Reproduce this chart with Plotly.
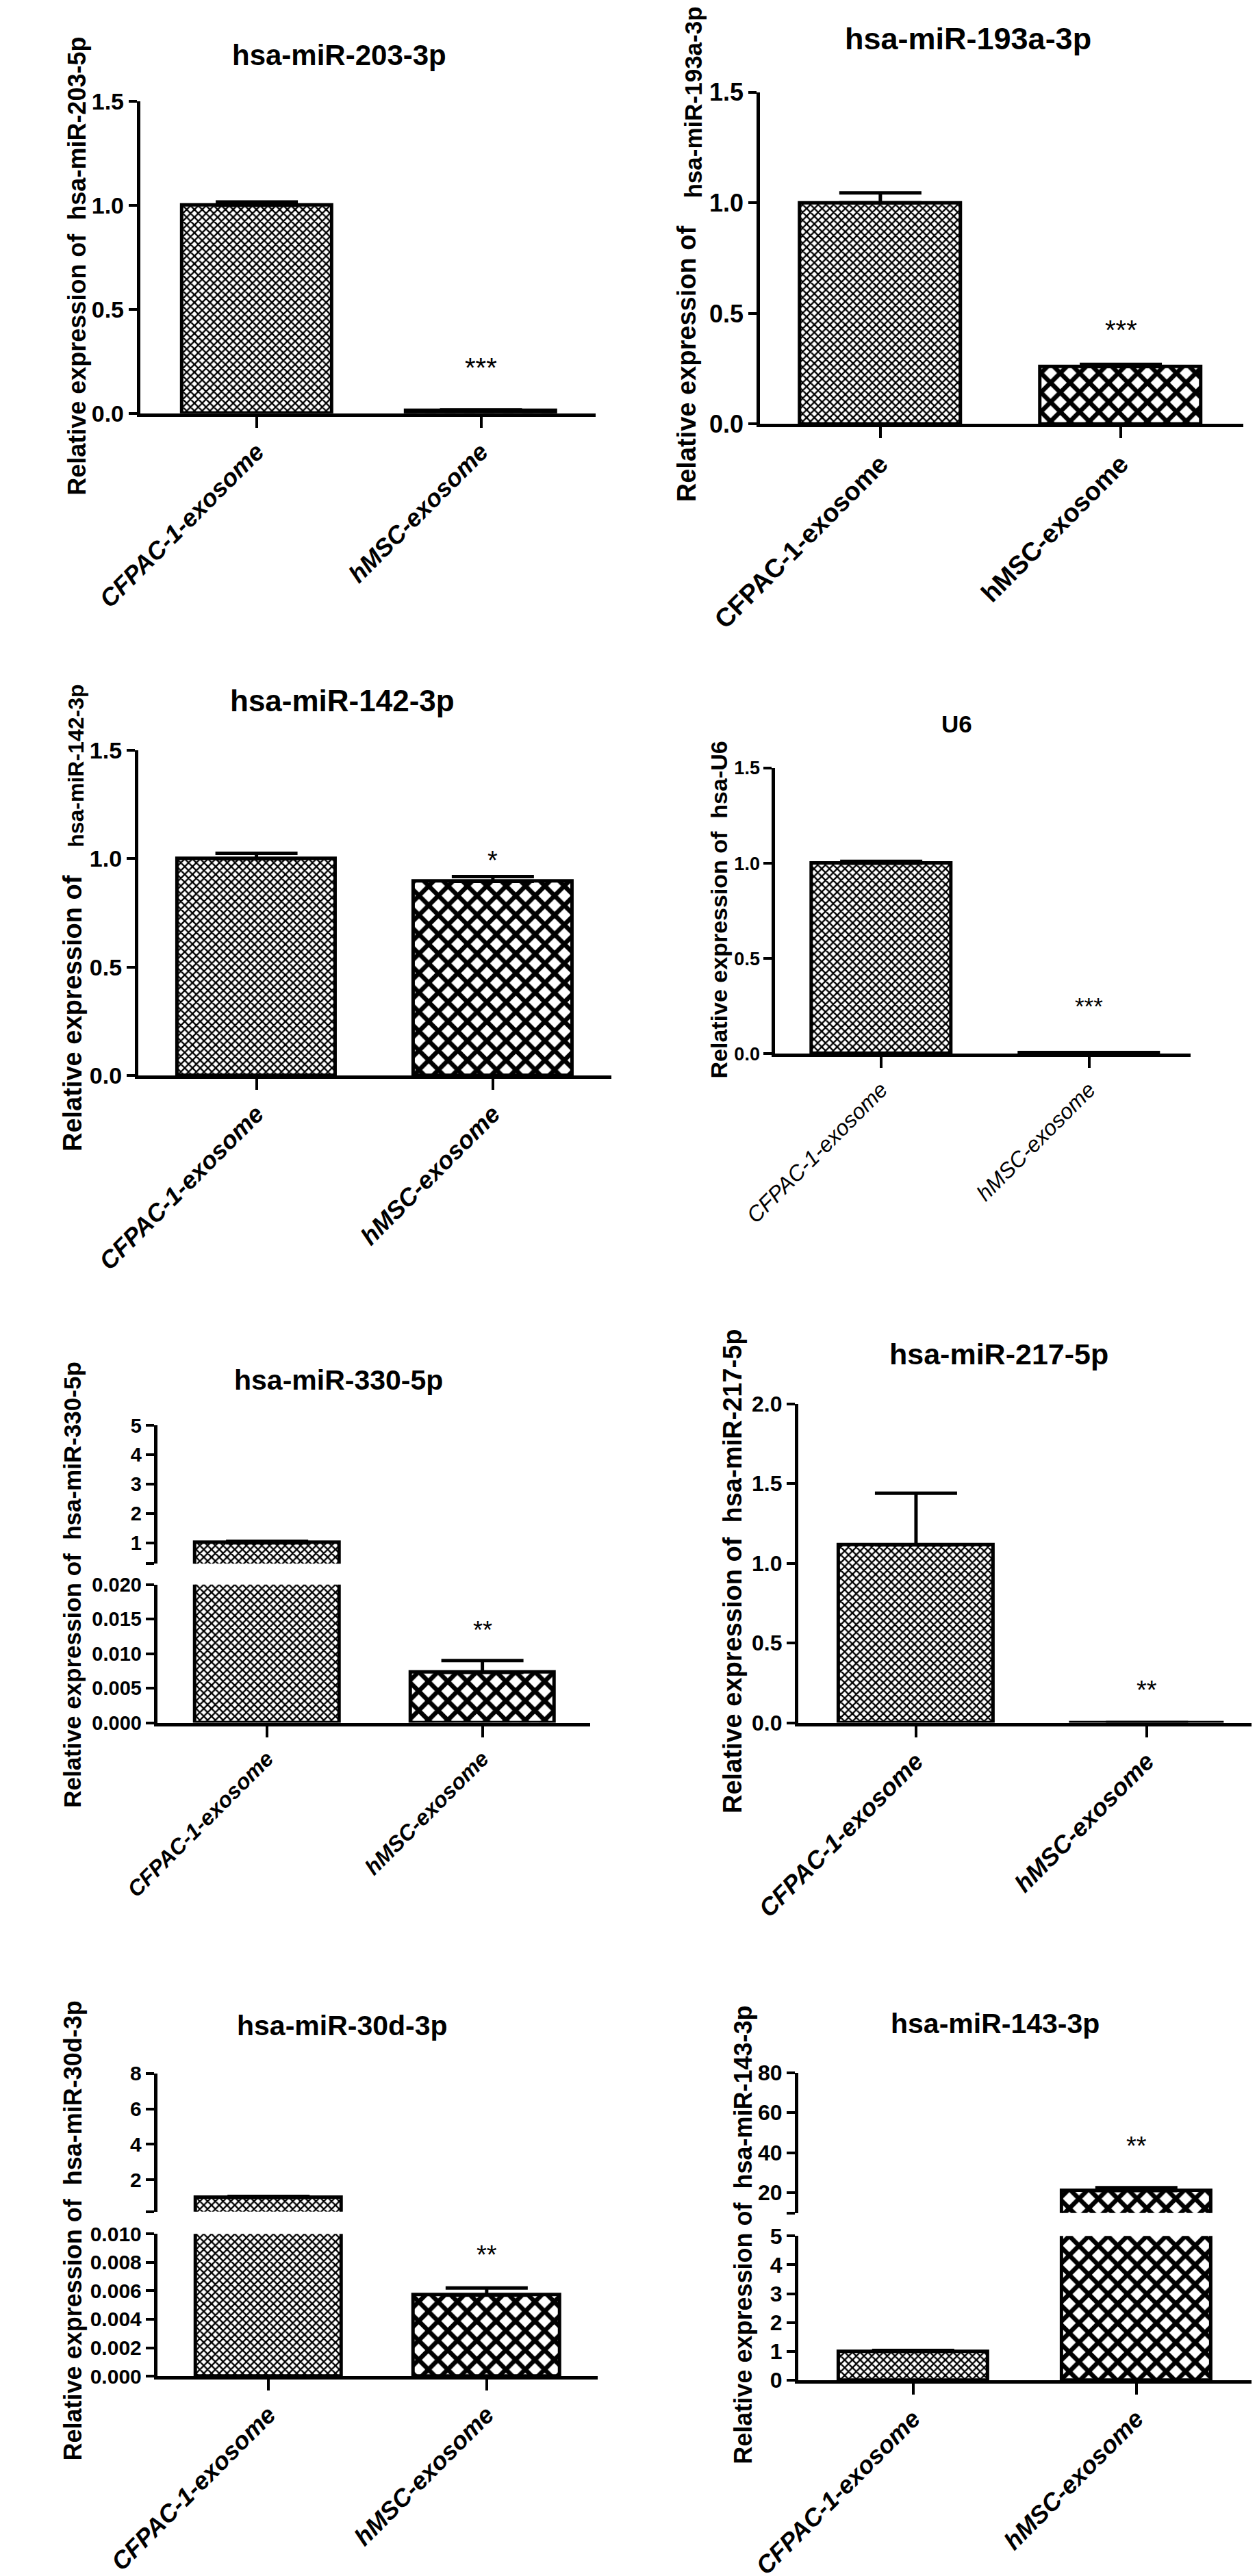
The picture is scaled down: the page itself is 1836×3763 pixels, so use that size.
import plotly.graph_objects as go

W, H = 1836, 3763
FONT = "Liberation Sans, Arial, sans-serif"

groups = ["CFPAC-1-exosome", "hMSC-exosome"]

# mean / SEM
mir203_mean = [1.0, 0.012]
mir203_sem = [0.015, 0.004]
mir193a_mean = [1.0, 0.26]
mir193a_sem = [0.045, 0.01]
mir142_mean = [1.0, 0.896]
mir142_sem = [0.025, 0.022]
u6_mean = [1.0, 0.004]
u6_sem = [0.01, 0.001]
mir330_mean = [1.0, 0.0073]
mir330_sem = [0.05, 0.0017]
mir217_mean = [1.115, 0.001]
mir217_sem = [0.325, None]
mir30d_mean = [1.0, 0.0057]
mir30d_sem = [0.06, 0.0005]
mir143_mean = [1.0, 21.0]
mir143_sem = [0.03, 1.5]

# significance marks and where they sit (data units)
stars = ["***", "***", "*", "***", "**", "**", "**", "**"]
star_y = [0.247, 0.45, 1.016, 0.28, 0.0142, 0.24, 0.0089, 46]

# y tick labels
ticks_unit = [0, 0.5, 1.0, 1.5]
ticks_217 = [0, 0.5, 1.0, 1.5, 2.0]
ticks_330_lo = [0, 0.005, 0.010, 0.015, 0.020]
ticks_330_hi = [1, 2, 3, 4, 5]
ticks_30d_lo = [0, 0.002, 0.004, 0.006, 0.008, 0.010]
ticks_30d_hi = [2, 4, 6, 8]
ticks_143_lo = [0, 1, 2, 3, 4, 5]
ticks_143_hi = [20, 40, 60, 80]


def seg(top, bot, rng, ticks, dec, brk=False):
    return dict(top=top, bot=bot, rng=rng, ticks=ticks, dec=dec, brk=brk)


# layout of each panel (pixels in the 1836x3763 page)
panels = [
    dict(title="hsa-miR-203-3p", tpos=(430, 53, 42), mean=mir203_mean, sem=mir203_sem,
         x=(127, 820), xr=(-0.52, 1.51), segs=[seg(121, 582, [0, 1.5], ticks_unit, 1)],
         ytxt=[("Relative expression of  hsa-miR-203-5p", 30, 365, 36, "middle")],
         ytick=34, xfont=(36, "bold", "italic"), star=(0, 40)),
    dict(title="hsa-miR-193a-3p", tpos=(1388, 29, 45), mean=mir193a_mean, sem=mir193a_sem,
         x=(1071, 1807), xr=(-0.5, 1.51), segs=[seg(108, 598, [0, 1.5], ticks_unit, 1)],
         ytxt=[("Relative expression of", 960, 509, 38, "middle"),
               ("hsa-miR-193a-3p", 969, 266, 35, "bottom")],
         ytick=36, xfont=(38, "bold", "normal"), star=(0, 40)),
    dict(title="hsa-miR-142-3p", tpos=(435, 1006, 44), mean=mir142_mean, sem=mir142_sem,
         x=(124, 844), xr=(-0.5, 1.5), segs=[seg(1080, 1560, [0, 1.5], ticks_unit, 1)],
         ytxt=[("Relative expression of", 24, 1468, 38, "middle"),
               ("hsa-miR-142-3p", 29, 1103, 32, "middle")],
         ytick=34, xfont=(36, "bold", "italic"), star=(0, 38)),
    dict(title="U6", tpos=(1371, 1041, 35), mean=u6_mean, sem=u6_sem,
         x=(1094, 1727), xr=(-0.51, 1.49), segs=[seg(1106, 1528, [0, 1.5], ticks_unit, 1)],
         ytxt=[("Relative expression of  hsa-U6", 1008, 1315, 34, "middle")],
         ytick=27, xfont=(32, "normal", "italic"), star=(0, 35)),
    dict(title="hsa-miR-330-5p", tpos=(429, 2010, 41), mean=mir330_mean, sem=mir330_sem,
         x=(153, 812), xr=(-0.51, 1.5),
         segs=[seg(2312, 2516, [0, 0.02], ticks_330_lo, 3),
               seg(2077, 2281, [0.29, 5], ticks_330_hi, 0, True)],
         ytxt=[("Relative expression of  hsa-miR-330-5p", 24, 2312, 35, "middle")],
         ytick=29, xfont=(32, "bold", "italic"), star=(0, 36)),
    dict(title="hsa-miR-217-5p", tpos=(1435, 1971, 43), mean=mir217_mean, sem=mir217_sem,
         x=(1129, 1836), xr=(-0.51, 1.5), segs=[seg(2045, 2516, [0, 2.0], ticks_217, 1)],
         ytxt=[("Relative expression of  hsa-miR-217-5p", 1029, 2292, 38, "middle")],
         ytick=32, xfont=(36, "bold", "italic"), star=(0, 38)),
    dict(title="hsa-miR-30d-3p", tpos=(435, 2963, 41), mean=mir30d_mean, sem=mir30d_sem,
         x=(153, 824), xr=(-0.51, 1.51),
         segs=[seg(3271, 3481, [0, 0.010], ticks_30d_lo, 3),
               seg(3034, 3238, [0.2, 8], ticks_30d_hi, 0, True)],
         ytxt=[("Relative expression of  hsa-miR-30d-3p", 24, 3266, 36, "middle")],
         ytick=30, xfont=(36, "bold", "italic"), star=(0, 38)),
    dict(title="hsa-miR-143-3p", tpos=(1429, 2960, 41), mean=mir143_mean, sem=mir143_sem,
         x=(1129, 1836), xr=(-0.515, 1.565),
         segs=[seg(3274, 3487, [0, 5], ticks_143_lo, 0),
               seg(3033, 3240, [9.8, 80], ticks_143_hi, 0, True)],
         ytxt=[("Relative expression of  hsa-miR-143-3p", 1045, 3272, 36, "middle")],
         ytick=32, xfont=(36, "bold", "italic"), star=(1, 38)),
]

fig = go.Figure()
lay = {}
annotations = []
ny = 0

for i, p in enumerate(panels):
    xn = i + 1
    xname = "xaxis" if xn == 1 else f"xaxis{xn}"
    xref = "x" if xn == 1 else f"x{xn}"
    seg_refs = []
    for k, s in enumerate(p["segs"]):
        ny += 1
        yname = "yaxis" if ny == 1 else f"yaxis{ny}"
        yref = "y" if ny == 1 else f"y{ny}"
        seg_refs.append(yref)
        # fine checker for CFPAC-1, coarse checker for hMSC
        fig.add_trace(go.Bar(
            x=groups, y=p["mean"], xaxis=xref, yaxis=yref, width=0.67,
            marker=dict(color="white", line=dict(color="black", width=5),
                        pattern=dict(shape="x", size=[8, 20], solidity=[0.5, 0.55],
                                     fgcolor="black", bgcolor="white", fillmode="replace")),
            error_y=dict(type="data", symmetric=False, array=p["sem"], arrayminus=[0, 0],
                         color="black", thickness=5, width=60),
            hoverinfo="skip"))
        tv = list(s["ticks"])
        tt = [f"{v:.{s['dec']}f}" for v in tv]
        if s["brk"]:
            tv = [s["rng"][0]] + tv
            tt = [""] + tt
        lay[yname] = dict(
            domain=[1 - s["bot"] / H, 1 - s["top"] / H], range=s["rng"], anchor=xref,
            showline=True, linecolor="black", linewidth=5, ticks="outside", ticklen=12,
            tickwidth=4, tickcolor="black", showgrid=False, zeroline=False,
            tickvals=tv, ticktext=tt,
            tickfont=dict(family=FONT, size=p["ytick"], color="black", weight="bold"))
    fs, fw, fst = p["xfont"]
    lay[xname] = dict(
        domain=[p["x"][0] / W, min(p["x"][1] / W, 1.0)], range=list(p["xr"]),
        anchor=seg_refs[0], type="category", categoryorder="array", categoryarray=groups,
        showline=True, linecolor="black", linewidth=5, ticks="outside", ticklen=16,
        tickwidth=4, tickcolor="black", showgrid=False, zeroline=False, tickangle=-45,
        tickfont=dict(family=FONT, size=fs, color="black", weight=fw, style=fst))

    tx, ty, tsz = p["tpos"]
    annotations.append(dict(text=p["title"], x=tx / W, y=1 - ty / H, xref="paper", yref="paper",
                            showarrow=False, xanchor="center", yanchor="middle",
                            font=dict(family=FONT, size=tsz, color="black", weight="bold")))
    for txt, ax_, ay_, sz, anc in p["ytxt"]:
        annotations.append(dict(text=txt, x=ax_ / W, y=1 - ay_ / H, xref="paper", yref="paper",
                                showarrow=False, textangle=-90, xanchor="center", yanchor=anc,
                                font=dict(family=FONT, size=sz, color="black", weight="bold")))
    sk, ssz = p["star"]
    annotations.append(dict(text=stars[i], x=groups[1], y=star_y[i], xref=xref, yref=seg_refs[sk],
                            showarrow=False, xanchor="center", yanchor="middle", yshift=-8,
                            font=dict(family=FONT, size=ssz, color="black")))

fig.update_layout(
    width=W, height=H, margin=dict(l=0, r=0, t=0, b=0, pad=0),
    paper_bgcolor="white", plot_bgcolor="white", showlegend=False, bargap=0,
    annotations=annotations, **lay)

fig.write_html("out.html")
